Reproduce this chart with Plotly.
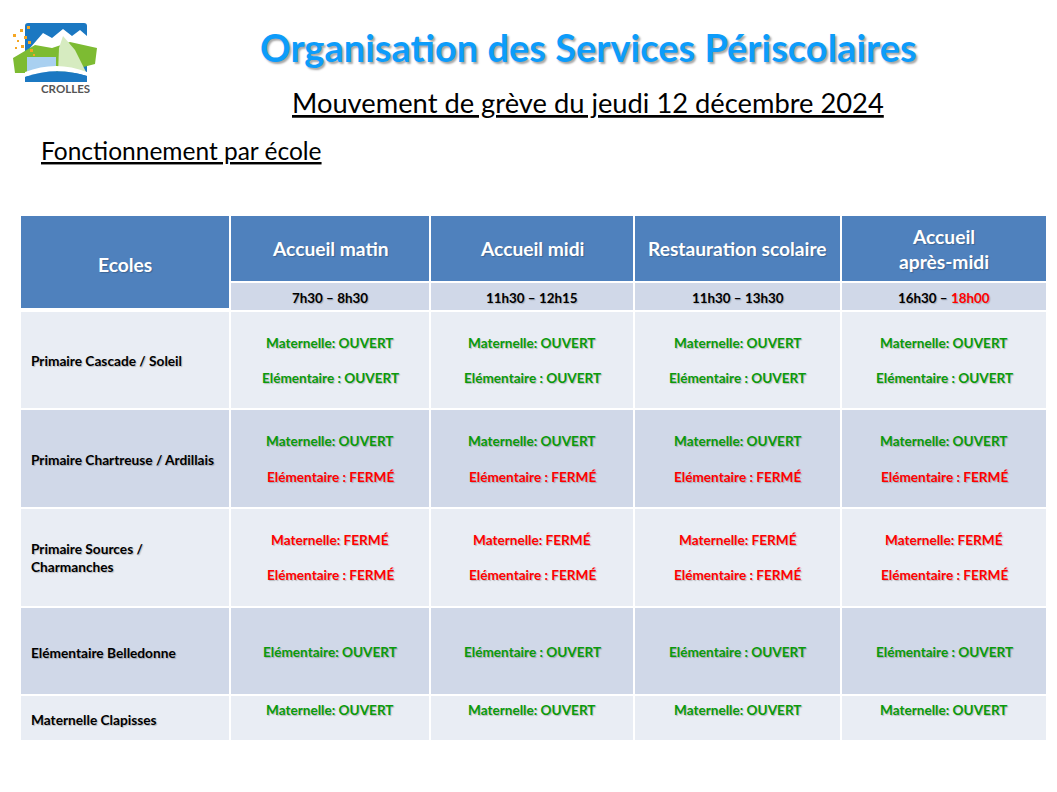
import plotly.graph_objects as go

W, H = 1057, 792
PAD = 8  # default page margin of the html body

# ---------------- data ----------------
title = "Organisation des Services Périscolaires"
subtitle = "Mouvement de grève du jeudi 12 décembre 2024"
section = "Fonctionnement par école"
logo_text = "CROLLES"

corner_header = "Ecoles"
services = ["Accueil matin", "Accueil midi", "Restauration scolaire", "Accueil<br>après-midi"]
time_start = ["7h30", "11h30", "11h30", "16h30"]
time_end = ["8h30", "12h15", "13h30", "18h00"]
time_end_alert = [False, False, False, True]

schools = [
    "Primaire Cascade / Soleil",
    "Primaire Chartreuse / Ardillais",
    "Primaire Sources /<br>Charmanches",
    "Elémentaire Belledonne",
    "Maternelle Clapisses",
]

# cell contents: one list of lines per school, per service
cell_lines = [
    [["Maternelle: OUVERT", "Elémentaire : OUVERT"]] * 4,
    [["Maternelle: OUVERT", "Elémentaire : FERMÉ"]] * 4,
    [["Maternelle: FERMÉ", "Elémentaire : FERMÉ"]] * 4,
    [["Elémentaire: OUVERT"], ["Elémentaire : OUVERT"], ["Elémentaire : OUVERT"], ["Elémentaire : OUVERT"]],
    [["Maternelle: OUVERT"]] * 4,
]

# ---------------- layout / style ----------------
FONT = "Lato"
BLUE = "#4F81BD"
LIGHT = "#E9EDF4"
MID = "#D0D8E8"
GREEN = "#0A9A0A"
RED = "#FF0000"
SHADOW = "1px 1px 1px rgba(0,0,0,0.22)"

col_x = [20, 230, 430, 634, 841, 1047]
header_y = (216, 281)
sub_y = (283, 310)
row_y = [311, 409, 508, 607, 695, 741]
row_fill = [LIGHT, MID, LIGHT, MID, LIGHT]
line_y = [[343, 378], [441, 477], [540, 575], [652], [710]]
label_y = [360, 459, 557, 652, 719]

CELL_FS = 13.6
HEAD_FS = 19.2

shapes = []
ann = []


def rect(x0, y0, x1, y1, fill, gap=1):
    shapes.append(dict(type="rect", xref="x", yref="y", x0=x0 + gap, x1=x1 - gap,
                       y0=y0, y1=y1, fillcolor=fill, line=dict(width=0), layer="below"))


def text(x, y, s, size, color="black", bold=True, xanchor="center", yanchor="middle",
         shadow=None, under=False, align="center"):
    f = dict(family=FONT, size=size, color=color, weight=700 if bold else 400)
    if shadow:
        f["shadow"] = shadow
    if under:
        f["lineposition"] = "under"
    ann.append(dict(x=x, y=y, xref="x", yref="y", text=s, showarrow=False, font=f,
                    xanchor=xanchor, yanchor=yanchor, align=align))


# header
rect(col_x[0], header_y[0], col_x[1], sub_y[1] - 2, BLUE)
text((col_x[0] + col_x[1]) / 2, 264, corner_header, HEAD_FS, "white", shadow=SHADOW)
for j, s in enumerate(services):
    x0, x1 = col_x[j + 1], col_x[j + 2]
    rect(x0, header_y[0], x1, header_y[1], BLUE)
    text((x0 + x1) / 2, (header_y[0] + header_y[1]) / 2, s, HEAD_FS, "white", shadow=SHADOW)
    rect(x0, sub_y[0], x1, sub_y[1], MID)
    end_col = RED if time_end_alert[j] else "black"
    t = f"{time_start[j]} – <span style='color:{end_col}'>{time_end[j]}</span>"
    text((x0 + x1) / 2, (sub_y[0] + sub_y[1]) / 2 + 1, t, 13.4, "black", shadow=SHADOW)

# body
for i, school in enumerate(schools):
    y0, y1 = row_y[i] + 1, row_y[i + 1] - 1
    rect(col_x[0], y0, col_x[1], y1, row_fill[i])
    text(col_x[0] + 9, label_y[i], school, 13.7, "black", xanchor="left", align="left",
         shadow=SHADOW)
    for j in range(len(services)):
        x0, x1 = col_x[j + 1], col_x[j + 2]
        rect(x0, y0, x1, y1, row_fill[i])
        for k, line in enumerate(cell_lines[i][j]):
            c = RED if "FERMÉ" in line else GREEN
            text((x0 + x1) / 2, line_y[i][k], line, CELL_FS, c, shadow=SHADOW)

# titles
text(588, 47, title, 38, "#0D9CFA", shadow="2px 2px 2px rgba(0,0,0,0.35)")
text(588, 102, subtitle, 27.3, "black", bold=False, under=True)
text(39, 150, section, 24.5, "black", bold=False, under=True, xanchor="left")

# logo (decoration)
shapes += [
    dict(type="path", xref="x", yref="y", layer="above",
         path="M 28 23 L 84 23 Q 87 23 87 26 L 87 82 L 25 82 L 25 26 Q 25 23 28 23 Z",
         fillcolor="#1B78C2", line=dict(width=0)),
    dict(type="path", xref="x", yref="y", layer="above",
         path="M 30 48 L 43 33 L 52 38 L 63 29 L 72 36 L 80 30 L 87 36 L 87 52 L 30 56 Z",
         fillcolor="white", line=dict(width=0)),
    dict(type="path", xref="x", yref="y", layer="above",
         path="M 13 58 L 35 45 L 52 48 L 70 42 L 97 48 L 95 64 L 60 73 L 15 73 Z",
         fillcolor="#7DBB32", line=dict(width=0)),
    dict(type="path", xref="x", yref="y", layer="above",
         path="M 63 36 L 75 50 L 86 72 L 58 74 L 59 48 Z",
         fillcolor="#D6EBC0", line=dict(width=0)),
    dict(type="rect", xref="x", yref="y", layer="above", x0=27, x1=56, y0=57, y1=76,
         fillcolor="#A9D0F0", line=dict(width=0)),
    dict(type="path", xref="x", yref="y", layer="above",
         path="M 25 72 Q 56 60 87 72 L 87 76 Q 56 66 25 77 Z",
         fillcolor="white", line=dict(width=0)),
    dict(type="path", xref="x", yref="y", layer="above",
         path="M 25 77 Q 56 66 87 76 L 87 82 L 25 82 Z",
         fillcolor="#1B78C2", line=dict(width=0)),
]
for (sx, sy, sz) in [(13, 34, 3), (20, 29, 3), (17, 40, 2), (24, 36, 3), (27, 26, 3),
                     (21, 45, 3), (28, 41, 3), (15, 47, 2), (30, 49, 3), (33, 54, 2)]:
    shapes.append(dict(type="rect", xref="x", yref="y", layer="above",
                       x0=sx, x1=sx + sz, y0=sy, y1=sy + sz,
                       fillcolor="#F5A623", line=dict(width=0)))
text(65, 88, logo_text, 11.5, "#555555")

fig = go.Figure()
fig.update_layout(
    width=W - 2 * PAD, height=H - 2 * PAD,
    margin=dict(l=0, r=0, t=0, b=0),
    paper_bgcolor="white", plot_bgcolor="white",
    xaxis=dict(range=[PAD, W - PAD], visible=False, fixedrange=True),
    yaxis=dict(range=[H - PAD, PAD], visible=False, fixedrange=True),
    shapes=shapes, annotations=ann, showlegend=False,
)
fig.write_html("out.html")
